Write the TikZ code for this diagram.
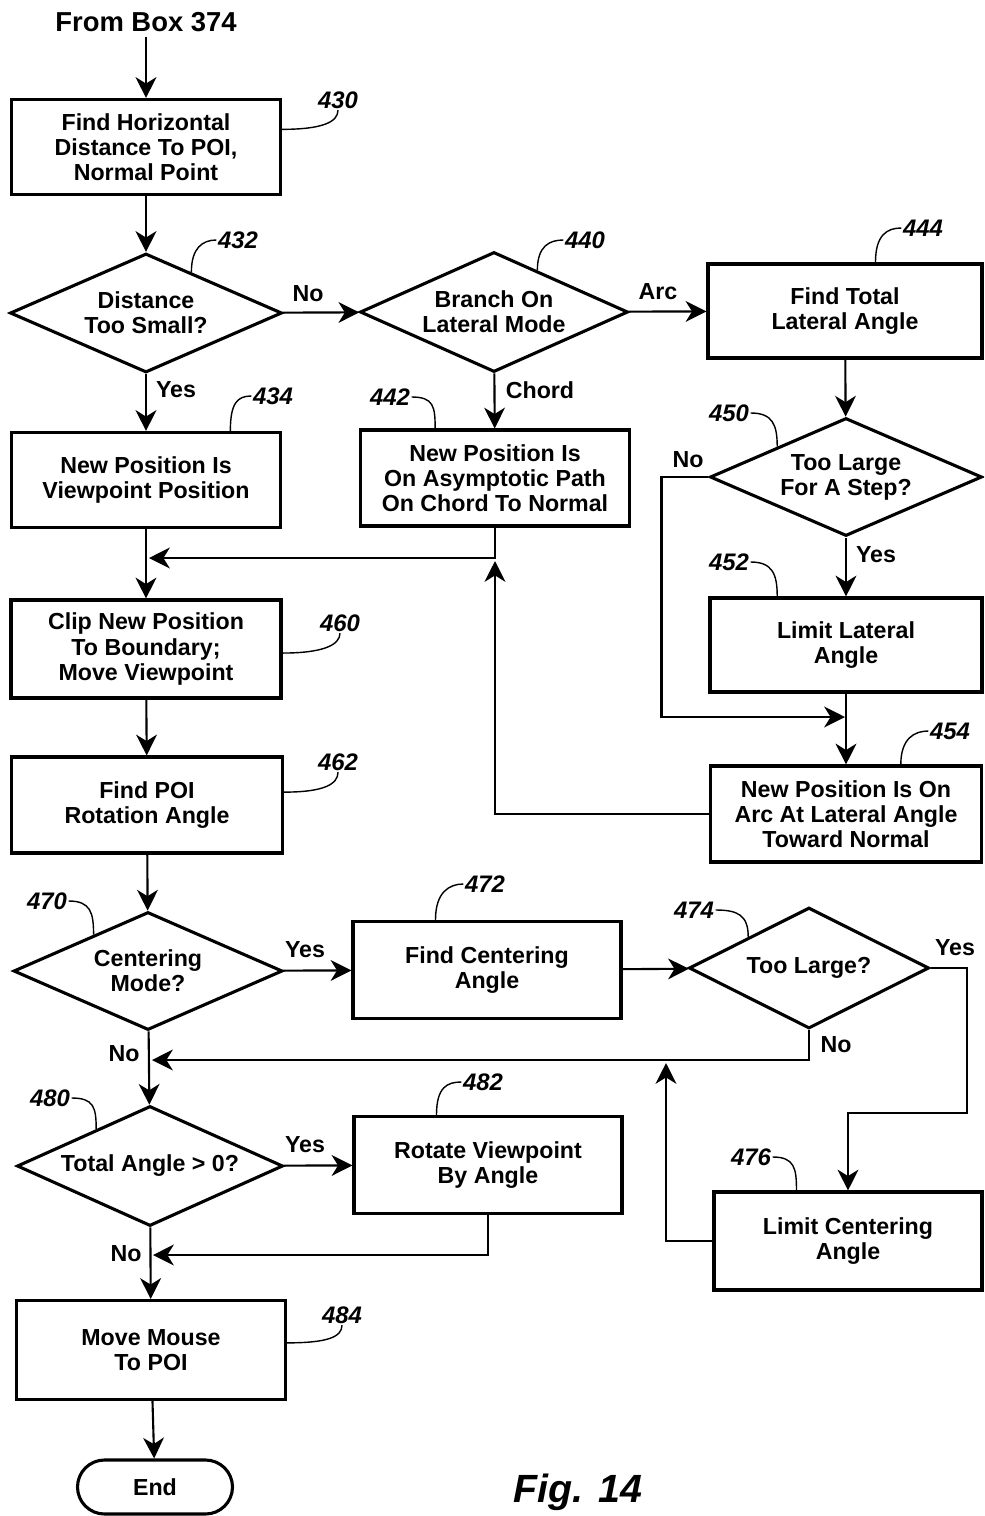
\documentclass[tikz,border=0pt]{standalone}
\usepackage{fontspec}
\setmainfont{Liberation Sans}
\usetikzlibrary{arrows.meta,shapes.geometric,calc}

\newcommand{\boxfont}{\fontsize{16.5}{17.8}\selectfont\bfseries}
\newcommand{\numfont}{\fontsize{17}{18}\selectfont\bfseries\itshape}

\tikzset{
  wh/.style 2 args={minimum width=#1*0.25mm, minimum height=#2*0.25mm},
  proc/.style={draw, line width=2.2pt, rectangle, inner sep=1pt, align=center, font=\boxfont},
  test/.style={draw, line width=2.2pt, diamond, aspect=2.2, inner sep=0pt, align=center, font=\boxfont},
  flow/.style={line width=1.5pt, -{Stealth[length=5.2mm,width=5.2mm,inset=1.6mm]}},
  lead/.style={line width=1pt},
  refno/.style={font=\numfont, inner sep=1pt},
  tag/.style={font=\boxfont, inner sep=0pt},
}

\begin{document}
\begin{tikzpicture}[x=0.25mm, y=-0.25mm]

\clip (0,0) rectangle (984,1516);

% boxes and tests
\node[font=\fontsize{19.5}{20}\selectfont\bfseries] (start) at (146,22) {From Box 374};
\node[proc, wh={269}{95}] (b430) at (146,147) {Find Horizontal\\Distance To POI,\\Normal Point};
\node[test, wh={272}{119}] (d432) at (146,313) {Distance\\Too Small?};
\node[test, wh={268}{120}] (d440) at (494,312) {Branch On\\Lateral Mode};
\node[proc, wh={274}{94}] (b444) at (845,311) {Find Total\\Lateral Angle};
\node[proc, wh={269}{95}] (b434) at (146,480) {New Position Is\\Viewpoint Position};
\node[proc, wh={269}{96}] (b442) at (495,478) {New Position Is\\On Asymptotic Path\\On Chord To Normal};
\node[test, wh={272}{118}] (d450) at (846,477) {Too Large\\For A Step?};
\node[proc, wh={272}{94}] (b452) at (846,645) {Limit Lateral\\Angle};
\node[proc, wh={271}{96}] (b454) at (846,814) {New Position Is On\\Arc At Lateral Angle\\Toward Normal};
\node[proc, wh={270}{98}] (b460) at (146,649) {Clip New Position\\To Boundary;\\Move Viewpoint};
\node[proc, wh={271}{96}] (b462) at (147,805) {Find POI\\Rotation Angle};
\node[test, wh={269}{118}] (d470) at (148,971) {Centering\\Mode?};
\node[proc, wh={268}{97}] (b472) at (487,970) {Find Centering\\Angle};
\node[test, wh={240}{121}, aspect=2] (d474) at (809,968) {Too Large?};
\node[proc, wh={268}{98}] (b476) at (848,1241) {Limit Centering\\Angle};
\node[test, wh={266}{120}] (d480) at (150,1166) {Total Angle > 0?};
\node[proc, wh={268}{97}] (b482) at (488,1165) {Rotate Viewpoint\\By Angle};
\node[proc, wh={269}{99}] (b484) at (151,1350) {Move Mouse\\To POI};
\node[proc, wh={155}{54}, rounded corners=6.75mm] (end) at (155,1487) {End};
\node[font=\fontsize{28}{28}\selectfont\bfseries\itshape, anchor=base] (fig) at (578,1502) {Fig. 14};

% reference numbers
\node[refno] (l430) at (338,100) {430};
\node[refno] (l432) at (238,240) {432};
\node[refno] (l434) at (273,396) {434};
\node[refno] (l440) at (585,240) {440};
\node[refno] (l442) at (390,397) {442};
\node[refno] (l444) at (923,228) {444};
\node[refno] (l450) at (729,413) {450};
\node[refno] (l452) at (729,562) {452};
\node[refno] (l454) at (950,731) {454};
\node[refno] (l460) at (340,623) {460};
\node[refno] (l462) at (338,762) {462};
\node[refno] (l470) at (47,901) {470};
\node[refno] (l472) at (485,884) {472};
\node[refno] (l474) at (694,910) {474};
\node[refno] (l476) at (751,1157) {476};
\node[refno] (l480) at (50,1098) {480};
\node[refno] (l482) at (483,1082) {482};
\node[refno] (l484) at (342,1315) {484};

% branch words
\node[tag] (no432) at (308,294) {No};
\node[tag] (yes432) at (176,390) {Yes};
\node[tag] (arc440) at (658,292) {Arc};
\node[tag] (chord440) at (540,390) {Chord};
\node[tag] (no450) at (688,460) {No};
\node[tag] (yes450) at (876,555) {Yes};
\node[tag] (yes470) at (305,950) {Yes};
\node[tag] (no470) at (124,1054) {No};
\node[tag] (yes474) at (955,948) {Yes};
\node[tag] (no474) at (836,1045) {No};
\node[tag] (yes480) at (305,1145) {Yes};
\node[tag] (no480) at (126,1254) {No};

% junctions
\coordinate (j434) at (149,558);
\coordinate (j442) at (495,561);
\coordinate (j452) at (845,717);
\coordinate (t474) at (967,1113);
\coordinate (j474) at (152,1060);
\coordinate (j476) at (666,1063);
\coordinate (j482) at (153,1255);

% flow
\draw[flow] (start) -- (b430);
\draw[flow] (b430) -- (d432);
\draw[flow] (d432) -- (d440);
\draw[flow] (d440) -- (b444);
\draw[flow] (d440) -- (b442);
\draw[flow] (d432) -- (b434);
\draw[flow] (b434) -- (b460);
\draw[flow] (b442.south) |- (j434);
\draw[flow] (b444) -- (d450);
\draw[flow] (d450) -- (b452);
\draw[flow] (b452) -- (b454);
\draw[flow] (d450.west) -- ++(-47,0) |- (j452);
\draw[flow] (b454.west) -| (j442);
\draw[flow] (b460) -- (b462);
\draw[flow] (b462) -- (d470);
\draw[flow] (d470) -- (b472);
\draw[flow] (b472) -- (d474);
\draw[flow] (d474.east) -| (t474) -| (b476.north);
\draw[flow] (d474.south) |- (j474);
\draw[flow] (b476.west) -| (j476);
\draw[flow] (d470) -- (d480);
\draw[flow] (d480) -- (b482);
\draw[flow] (b482.south) |- (j482);
\draw[flow] (d480) -- (b484);
\draw[flow] (b484) -- (end);

% leaders
\draw[lead] ($(b430.north east)!0.32!(b430.south east)$) .. controls +(40,0) and +(0,12) .. (l430.south);
\draw[lead] ($(b460.north east)!0.54!(b460.south east)$) .. controls +(40,0) and +(0,12) .. (l460.south);
\draw[lead] ($(b462.north east)!0.37!(b462.south east)$) .. controls +(40,0) and +(0,12) .. (l462.south);
\draw[lead] ($(b484.north east)!0.43!(b484.south east)$) .. controls +(40,0) and +(0,12) .. (l484.south);
\draw[lead] ($(d432.north)!0.33!(d432.east)$) .. controls +(0,-24) and +(-14,0) .. (l432.west);
\draw[lead] ($(d440.north)!0.32!(d440.east)$) .. controls +(0,-24) and +(-14,0) .. (l440.west);
\draw[lead] ($(b434.north west)!0.81!(b434.north east)$) .. controls +(0,-28) and +(-14,0) .. (l434.west);
\draw[lead] ($(b444.north west)!0.61!(b444.north east)$) .. controls +(0,-28) and +(-14,0) .. (l444.west);
\draw[lead] ($(b454.north west)!0.70!(b454.north east)$) .. controls +(0,-26) and +(-14,0) .. (l454.west);
\draw[lead] ($(b472.north west)!0.31!(b472.north east)$) .. controls +(0,-28) and +(-14,0) .. (l472.west);
\draw[lead] ($(b482.north west)!0.31!(b482.north east)$) .. controls +(0,-28) and +(-14,0) .. (l482.west);
\draw[lead] (l442.east) .. controls +(22,0) and +(0,-22) .. ($(b442.north west)!0.28!(b442.north east)$);
\draw[lead] (l450.east) .. controls +(22,0) and +(0,-22) .. (d450.north west);
\draw[lead] (l452.east) .. controls +(22,0) and +(0,-22) .. ($(b452.north west)!0.25!(b452.north east)$);
\draw[lead] (l476.east) .. controls +(22,0) and +(0,-22) .. ($(b476.north west)!0.31!(b476.north east)$);
\draw[lead] (l470.east) .. controls +(22,0) and +(0,-22) .. ($(d470.west)!0.6!(d470.north)$);
\draw[lead] (l474.east) .. controls +(22,0) and +(0,-22) .. (d474.north west);
\draw[lead] (l480.east) .. controls +(22,0) and +(0,-22) .. ($(d480.west)!0.6!(d480.north)$);

\end{tikzpicture}
\end{document}
